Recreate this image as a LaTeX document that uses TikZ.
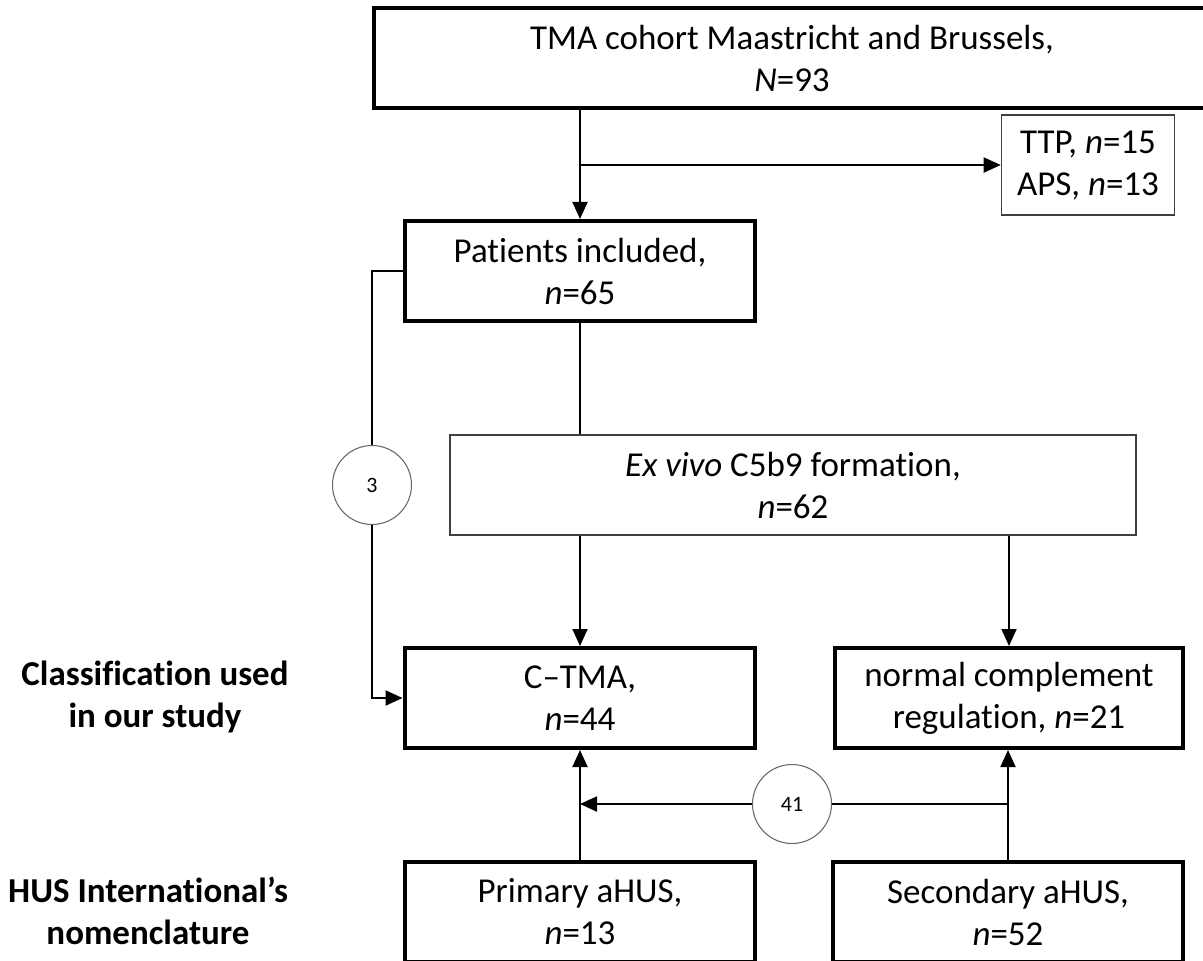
\documentclass[tikz,border=0pt]{standalone}
\usepackage{fontspec}
\setmainfont{Carlito}[Ligatures={NoCommon}]
\usepackage{tikz}
\usetikzlibrary{arrows.meta}

\newcommand{\boxfont}{\fontsize{19.9}{23.9}\selectfont}
\newcommand{\circfont}{\fontsize{12.5}{14}\selectfont}

\tikzset{
    boxthick/.style={draw=black, line width=2.3pt, align=center, inner sep=2pt, minimum height=2cm, font=\boxfont},
    boxthin/.style={draw=black!75, line width=0.9pt, align=center, inner sep=2pt, minimum height=2cm, font=\boxfont},
    countcirc/.style={circle, draw=black!60, line width=0.6pt, minimum size=1.58cm, inner sep=0pt, font=\circfont},
    sidelabel/.style={align=center, font=\boxfont\bfseries},
    link/.style={black, line width=1.1pt},
    arr/.style={link, -{Triangle[length=0.34cm,width=0.3cm]}},
}

\begin{document}
\begin{tikzpicture}[x=0.02cm, y=-0.02cm]
                \useasboundingbox (0,0) rectangle (1203,960);

                %% cohort
                \node[boxthick, minimum width=16.72cm] (cohort) at (792,58) {TMA cohort Maastricht and Brussels,\\\textit{N}=93};
                \node[boxthin, minimum width=3.46cm] (excl) at (1088,165) {TTP, \textit{n}=15\\APS, \textit{n}=13};
                \node[boxthick, minimum width=7.02cm] (incl) at (580,271) {Patients included,\\\textit{n}=65};

                %% C5b9 test
                \node[boxthin, minimum width=13.72cm] (exvivo) at (793,485) {\textit{Ex vivo} C5b9 formation,\\\textit{n}=62};
                \node[countcirc] (three) at (372,485) {3};

                %% our classification
                \node[boxthick, minimum width=7.02cm] (ctma) at (580,698) {C--TMA,\\\textit{n}=44};
                \node[boxthick, minimum width=6.96cm] (normal) at (1009,698) {normal complement\\regulation, \textit{n}=21};

                %% HUS International
                \node[boxthick, minimum width=7.02cm] (primary) at (580,912) {Primary aHUS,\\\textit{n}=13};
                \node[boxthick, minimum width=7.0cm] (secondary) at (1008,912) {Secondary aHUS,\\\textit{n}=52};
                \node[countcirc] (fortyone) at (792,804) {41};

                %% side labels
                \node[sidelabel] (ourlbl) at (155,697) {Classification used\\in our study};
                \node[sidelabel] (huslbl) at (148,911) {HUS International’s\\nomenclature};

                %% connectors
                \draw[arr] (incl.north |- cohort.south) -- (incl.north);
                \draw[arr] (excl.west -| incl.north) -- (excl.west);
                \draw[link] (incl.south) -- (incl.south |- exvivo.north);
                \draw[arr] (ctma.north |- exvivo.south) -- (ctma.north);
                \draw[arr] (normal.north |- exvivo.south) -- (normal.north);

                % left loop
                \draw[link] (incl.west) -| (three.north);
                \draw[arr] (three.south) |- (ctma.west);

                % bottom
                \draw[arr] (primary.north) -- (ctma.south);
                \draw[arr] (secondary.north) -- (secondary.north |- normal.south);
                \draw[link] (secondary.north |- fortyone.east) -- (fortyone.east);
                \draw[arr] (fortyone.west) -- (fortyone.west -| primary.north);

            \end{tikzpicture}
\end{document}
